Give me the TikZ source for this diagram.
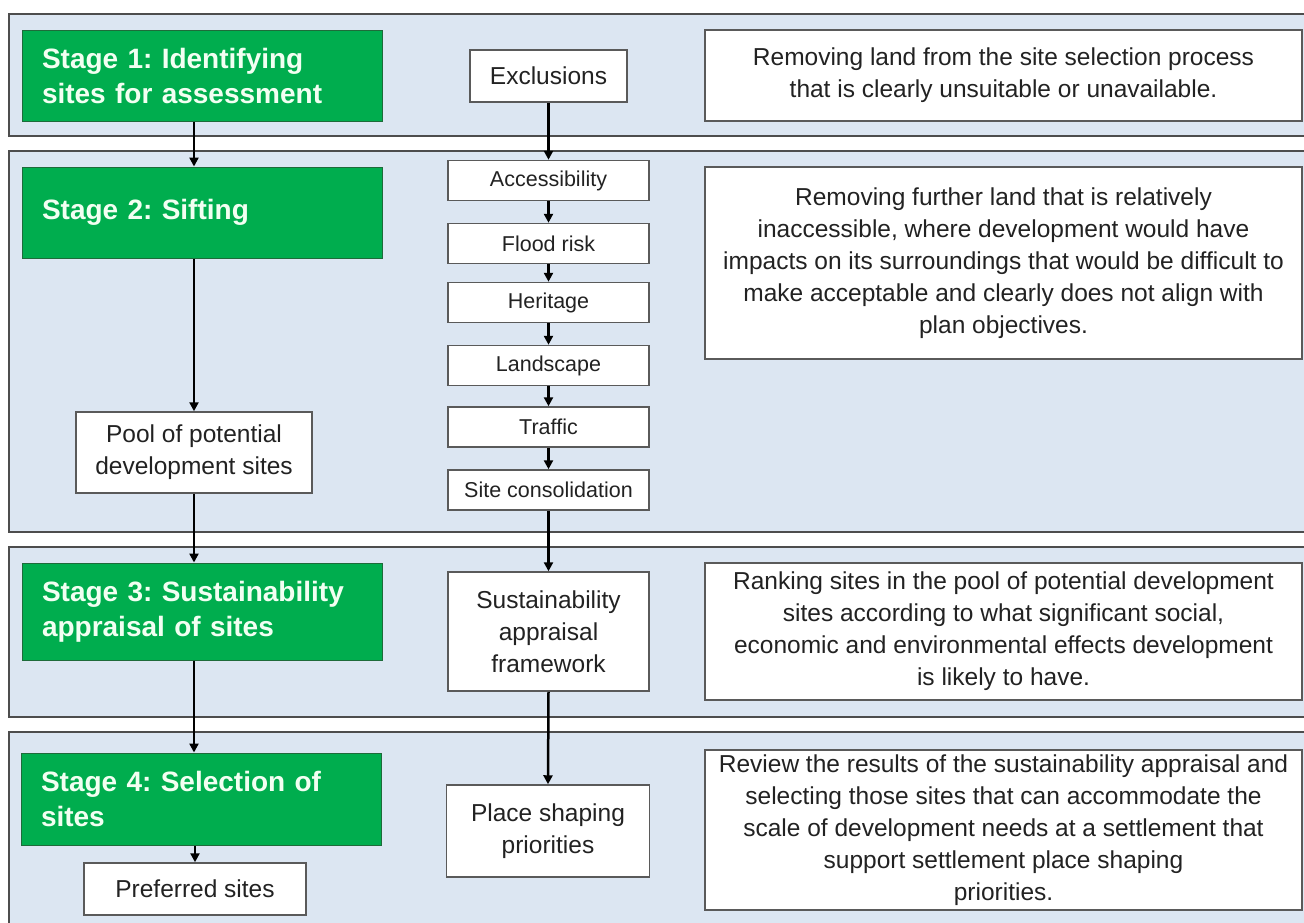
\documentclass[tikz,border=0pt]{standalone}
\usepackage{fontspec}
\setmainfont{Liberation Sans}
\usetikzlibrary{arrows.meta}
\definecolor{bandfill}{HTML}{DCE6F2}
\definecolor{bandline}{HTML}{4D4D4D}
\definecolor{boxline}{HTML}{5A5A5A}
\definecolor{stagegreen}{HTML}{00AD4E}
\definecolor{stageedge}{HTML}{1E6B3A}
\definecolor{stagetext}{HTML}{F2FFF2}
\definecolor{txt}{HTML}{222222}
\frenchspacing
\begin{document}
\begin{tikzpicture}[x=1pt,y=-1pt,
  panel/.style={fill=bandfill,draw=bandline,line width=2pt},
  stagebox/.style={fill=stagegreen,draw=stageedge,line width=1pt,text=stagetext,
    font={\fontsize{28}{35}\selectfont\bfseries},align=left,text width=320pt,
    inner xsep=20pt,inner ysep=0pt,minimum height=91pt},
  wbox/.style={fill=white,draw=boxline,line width=1.5pt,text=txt,inner sep=0pt,
    align=center,font={\fontsize{24.5}{32}\selectfont}},
  smallbox/.style={wbox,minimum width=201pt,minimum height=40pt,
    font={\fontsize{21.5}{26}\selectfont}},
  descbox/.style={wbox,minimum width=597pt},
  arr/.style={line width=2.5pt,black,-{Triangle[length=9pt,width=9pt]}}
]
\useasboundingbox (0,0) rectangle (1304,922);
\clip (0,0) rectangle (1304,922);
\fill[white] (0,0) rectangle (1304,922);

% bands
\draw[panel] (1320,14) -- (9,14) -- (9,136) -- (1320,136);
\draw[panel] (1320,151) -- (9,151) -- (9,532) -- (1320,532);
\draw[panel] (1320,547) -- (9,547) -- (9,717) -- (1320,717);
\draw[panel] (1320,732) -- (9,732) -- (9,940) -- (1320,940);

% stage boxes
\node[stagebox] (stage1) at (202,75.5) {Stage 1: Identifying\\sites for assessment};
\node[stagebox] (stage2) at (202,212.5) {Stage 2: Sifting};
\node[stagebox,minimum height=97pt] (stage3) at (202,611.5) {Stage 3: Sustainability\\appraisal of sites};
\node[stagebox,minimum height=92pt] (stage4) at (201,799) {Stage 4: Selection of\\sites};

% left column
\node[wbox,minimum width=236pt,minimum height=81pt] (pool) at (194,452.5) {Pool of potential\\development sites};
\node[wbox,minimum width=222pt,minimum height=52pt] (pref) at (195,889) {Preferred sites};

% middle column
\node[wbox,minimum width=157pt,minimum height=52pt] (excl) at (548.5,76) {Exclusions};
\node[smallbox] (acc) at (548.5,180.5) {Accessibility};
\node[smallbox] (flood) at (548.5,243.5) {Flood risk};
\node[smallbox] (her) at (548.5,302.5) {Heritage};
\node[smallbox] (land) at (548.5,365.5) {Landscape};
\node[smallbox] (traf) at (548.5,427) {Traffic};
\node[smallbox] (cons) at (548.5,490) {Site consolidation};
\node[wbox,minimum width=201pt,minimum height=119pt] (saf) at (548.5,631.5) {Sustainability\\appraisal\\framework};
\node[wbox,minimum width=203pt,minimum height=92pt] (psp) at (548,831) {Place shaping\\priorities};

% description boxes
\node[descbox,minimum height=91pt] (d1) at (1003.5,75.5)
  {Removing land from the site selection process\\that is clearly unsuitable or unavailable.};
\node[descbox,minimum height=192pt] (d2) at (1003.5,263)
  {Removing further land that is relatively\\inaccessible, where development would have\\impacts on its surroundings that would be difficult to\\make acceptable and clearly does not align with\\plan objectives.};
\node[descbox,minimum height=137pt] (d3) at (1003.5,631.5)
  {Ranking sites in the pool of potential development\\sites according to what significant social,\\economic and environmental effects development\\is likely to have.};
\node[descbox,minimum height=160pt] (d4) at (1003.5,830)
  {Review the results of the sustainability appraisal and\\selecting those sites that can accommodate the\\scale of development needs at a settlement that\\support settlement place shaping\\priorities.};

% connectors left
\draw[arr] (stage1.south -| pool.center) -- (stage2.north -| pool.center);
\draw[arr] (stage2.south -| pool.center) -- (pool.north);
\draw[arr] (pool.south) -- (stage3.north -| pool.center);
\draw[arr] (stage3.south -| pool.center) -- (stage4.north -| pool.center);
\draw[arr] (stage4.south -| pref.center) -- (pref.north);

% connectors middle
\draw[arr] (excl.south) -- (acc.north);
\draw[arr] (acc.south) -- (flood.north);
\draw[arr] (flood.south) -- (her.north);
\draw[arr] (her.south) -- (land.north);
\draw[arr] (land.south) -- (traf.north);
\draw[arr] (traf.south) -- (cons.north);
\draw[arr] (cons.south) -- (saf.north);
\draw[arr] (saf.south) -- (psp.north);
\end{tikzpicture}
\end{document}
